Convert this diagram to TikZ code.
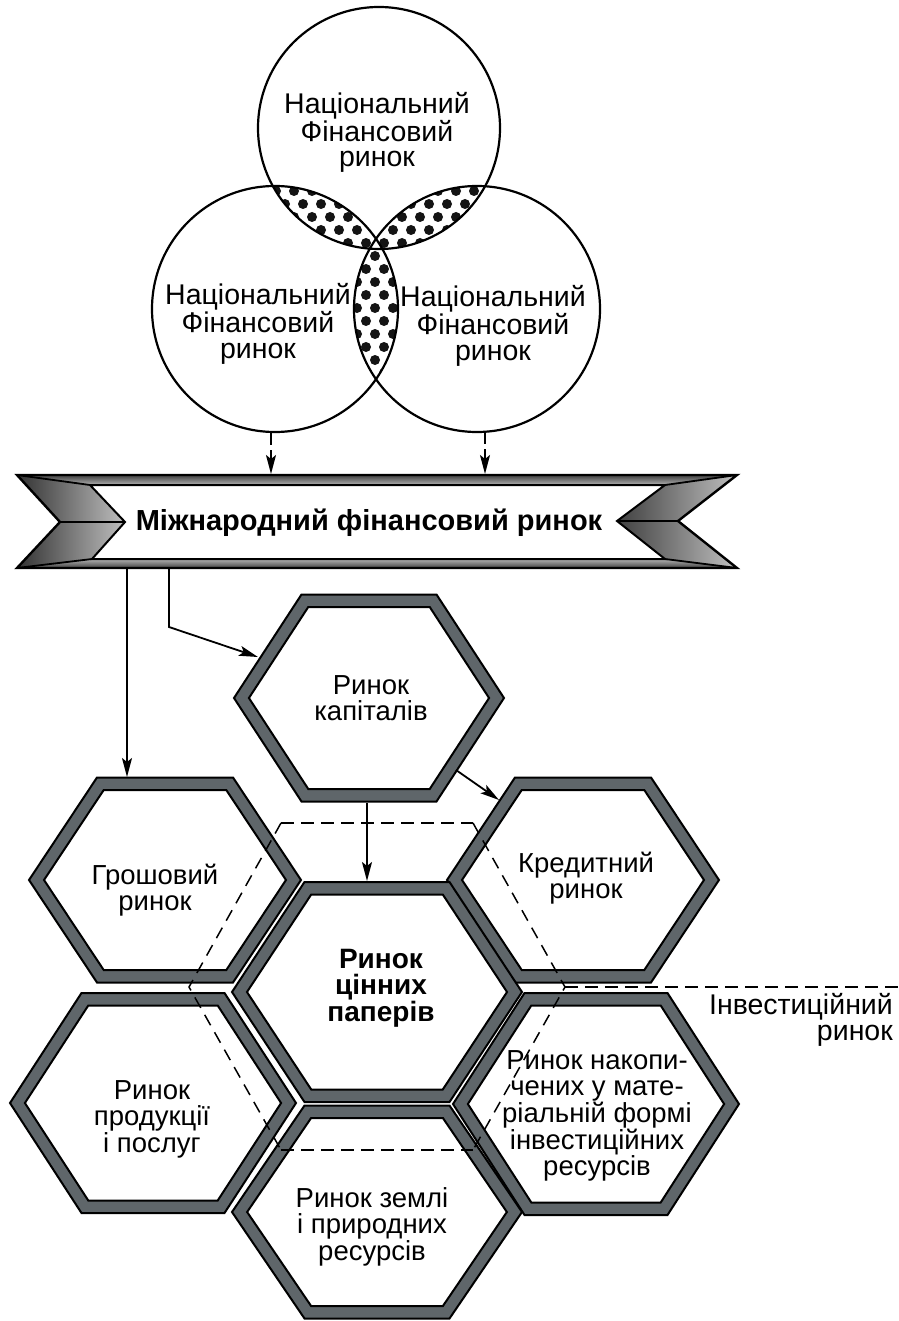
\documentclass[tikz,border=0pt]{standalone}
\usepackage{fontspec}
\setmainfont{Liberation Sans}
\usetikzlibrary{arrows.meta,calc}
\definecolor{hexgray}{RGB}{95,102,106}
\newcommand{\hexa}[5]{%
  \pgfmathsetmacro{\hxL}{veclen(#4/2,#5)}%
  \pgfmathsetmacro{\hxS}{#5/\hxL}%
  \pgfmathsetmacro{\hxR}{#4-12.5/\hxS}%
  \pgfmathsetmacro{\hxH}{#5-12.5}%
  \pgfmathsetmacro{\hxT}{\hxR-(#4/2)*\hxH/#5}%
  \coordinate (#1) at (#2,#3);
  \path[hexouter,shift={(#2,#3)}] ({-#4/2},{-#5}) -- ({#4/2},{-#5}) -- (#4,0) -- ({#4/2},#5) -- ({-#4/2},#5) -- ({-#4},0) -- cycle;
  \path[hexinner,shift={(#2,#3)}] ({-\hxT},{-\hxH}) -- (\hxT,{-\hxH}) -- (\hxR,0) -- (\hxT,\hxH) -- ({-\hxT},\hxH) -- ({-\hxR},0) -- cycle;
}
\newcommand{\lensdots}[4]{% clip two circles, fill dots
  \begin{scope}
    \clip (#1) circle[radius=#2pt];
    \clip (#3) circle[radius=#4pt];
    \fill[white] (240,160) rectangle (520,400);
    \foreach \j in {0,...,18}{
      \pgfmathtruncatemacro{\od}{mod(\j,2)}
      \foreach \i in {0,...,15}{
        \fill[black!92] ({240+18*\i+9*\od},{165+13*\j}) circle[radius=5pt];
      }
    }
  \end{scope}
}
\begin{document}
\begin{tikzpicture}[x=1pt,y=-1pt,
  hexouter/.style={fill=hexgray,draw=black,line width=2pt,line join=miter},
  hexinner/.style={fill=white,draw=black,line width=2pt,line join=miter},
  circ/.style={draw=black,line width=2.2pt},
  ctext/.style={anchor=base,align=center,inner sep=0pt,font=\fontsize{28.5}{25.5}\selectfont},
  htext/.style={anchor=base,align=center,inner sep=0pt,font=\fontsize{27.5}{25.5}\selectfont},
  btext/.style={anchor=base,align=center,inner sep=0pt,font=\fontsize{28}{25.5}\selectfont\bfseries},
  arr/.style={line width=1.8pt,-{Stealth[length=19pt,width=10pt,inset=4pt]}},
  darr/.style={arr,dash pattern=on 12pt off 5pt on 40pt},
  dthin/.style={line width=1.5pt,dash pattern=on 12pt off 8pt},
  dthick/.style={line width=2.8pt,dash pattern=on 13pt off 7pt},
  bline/.style={draw=black,line width=2.4pt,line join=miter}
]
\useasboundingbox (0,0) rectangle (898,1321);

% ---- circles ----
\coordinate (ct) at (379,128);
\coordinate (cl) at (275,309);
\coordinate (cr) at (477,309);
\lensdots{ct}{121}{cl}{123}
\lensdots{ct}{121}{cr}{123}
\lensdots{cl}{123}{cr}{123}
\draw[circ] (ct) circle[radius=121pt];
\draw[circ] (cl) circle[radius=123pt];
\draw[circ] (cr) circle[radius=123pt];
\node[ctext] (tt) at (377,167) {Національний\\Фінансовий\\ринок};
\node[ctext] (tl) at (258,358) {Національний\\Фінансовий\\ринок};
\node[ctext] (tr) at (493,360) {Національний\\Фінансовий\\ринок};

% ---- banner ----
\fill[white] (17,475) -- (737,475) -- (678,521) -- (737,568) -- (17,568) -- (60,522) -- cycle;
\shade[top color=black!75,bottom color=black!30] (17,475) -- (737,475) -- (665,485) -- (90,485) -- cycle;
\shade[top color=black!30,bottom color=black!75] (17,568) -- (737,568) -- (665,559) -- (92,559) -- cycle;
\shade[left color=black!80,right color=black!25] (17,475) -- (90,485) -- (125,522) -- (60,522) -- cycle;
\shade[left color=black!80,right color=black!25] (60,522) -- (125,522) -- (92,559) -- (17,568) -- cycle;
\shade[left color=black!75,right color=black!25] (737,475) -- (678,521) -- (617,521) -- (665,485) -- cycle;
\shade[left color=black!75,right color=black!25] (678,521) -- (737,568) -- (665,559) -- (617,521) -- cycle;
\draw[bline] (17,475) -- (737,475) -- (678,521) -- (737,568) -- (17,568) -- (60,522) -- cycle;
\draw[bline,line width=2pt] (90,485) -- (665,485) -- (617,521) -- (665,559) -- (92,559) -- (125,522) -- cycle;
\draw[bline,line width=1.8pt] (17,475) -- (90,485) (17,568) -- (92,559) (737,475) -- (665,485) (737,568) -- (665,559)
  (60,522) -- (125,522) (617,521) -- (678,521);
\node[btext,font=\fontsize{29}{26}\selectfont\bfseries] (ban) at (369,530) {Міжнародний фінансовий ринок};

% ---- hexagons ----
\hexa{hcap}{369}{698}{135}{103.5}
\hexa{hgro}{165}{880}{136}{102.5}
\hexa{hkre}{583}{880}{136}{102.5}
\hexa{hcen}{377}{992}{145}{110}
\hexa{hpro}{153}{1103}{143}{110}
\hexa{hnak}{596}{1104}{143}{111}
\hexa{hzem}{377}{1212}{145}{106.5}

\node[htext] (tcap) at (371,720) {Ринок\\капіталів};
\node[htext] (tgro) at (155,910) {Грошовий\\ринок};
\node[htext] (tkre) at (586,898) {Кредитний\\ринок};
\node[btext] (tcen) at (381,1021) {Ринок\\цінних\\паперів};
\node[htext] (tpro) at (152,1152) {Ринок\\продукції\\і послуг};
\node[htext] (tnak) at (597,1175) {Ринок накопи-\\чених у мате-\\ріальній формі\\інвестиційних\\ресурсів};
\node[htext] (tzem) at (372,1260) {Ринок землі\\і природних\\ресурсів};

% ---- dashed hexagon (investment market) ----
\coordinate (d1) at (281,823);
\coordinate (d2) at (473,823);
\coordinate (d3) at (565,987);
\coordinate (d4) at (473,1150);
\coordinate (d5) at (281,1150);
\coordinate (d6) at (189,987);
\coordinate (dr) at (898,987);
\draw[dthin] (d1) -- (d6) -- (d5);
\draw[dthin] (d2) -- (d3) -- (d4);
\draw[dthick] (d1) -- (d2);
\draw[dthick] (d5) -- (d4);
\draw[dthick] (d3) -- (dr);
\node[htext,anchor=base east,align=right,font=\fontsize{28.5}{25.5}\selectfont] (tinv) at (893,1040) {Інвестиційний\\ринок};

% ---- arrows ----
\coordinate (lcb) at (271,433);
\coordinate (b1) at (271,474);
\coordinate (rcb) at (485,432);
\coordinate (b2) at (485,474);
\draw[darr] (lcb) -- (b1);
\draw[darr] (rcb) -- (b2);
\coordinate (bb1) at (127,569);
\coordinate (g1) at (127,777);
\draw[arr] (bb1) -- (g1);
\coordinate (bb2) at (169,569);
\coordinate (k0) at (169,627);
\coordinate (k1) at (258,657);
\draw[arr] (bb2) -- (k0) -- (k1);
\coordinate (c1) at (456,770);
\coordinate (c2) at (499,800);
\draw[arr] (c1) -- (c2);
\coordinate (c3) at (367,803);
\coordinate (c4) at (367,881);
\draw[arr] (c3) -- (c4);
\end{tikzpicture}
\end{document}
